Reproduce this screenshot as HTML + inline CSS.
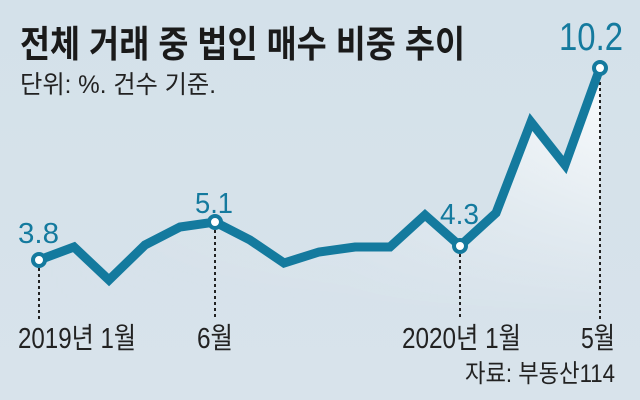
<!DOCTYPE html>
<html><head><meta charset="utf-8"><style>
html,body{margin:0;padding:0;width:640px;height:400px;overflow:hidden;background:#d6e2ea}
svg{display:block}
text{font-family:"Liberation Sans","Noto Sans CJK KR","NanumGothic",sans-serif}
</style></head><body>
<svg width="640" height="400" viewBox="0 0 640 400" xmlns="http://www.w3.org/2000/svg">
<defs>
<linearGradient id="bg" x1="0" y1="0" x2="0" y2="1">
<stop offset="0" stop-color="#d4e1ea"/><stop offset="1" stop-color="#d8e3eb"/>
</linearGradient>
<linearGradient id="fill" x1="0" y1="0" x2="1" y2="0">
<stop offset="0" stop-color="#ffffff" stop-opacity="0"/>
<stop offset="0.55" stop-color="#ffffff" stop-opacity="0.25"/>
<stop offset="1" stop-color="#ffffff" stop-opacity="0.95"/>
</linearGradient>
<linearGradient id="fadeV" x1="0" y1="0" x2="0" y2="1">
<stop offset="0" stop-color="#fff" stop-opacity="1"/>
<stop offset="1" stop-color="#fff" stop-opacity="0"/>
</linearGradient>
<mask id="m"><rect x="0" y="60" width="640" height="260" fill="url(#fadeV)"/></mask>
</defs>
<rect width="640" height="400" fill="url(#bg)"/>
<path d="M39,260 L74,247 L109,280 L145,245 L180,227 L215,222 L250,240 L284,263 L319,252 L355,247 L390,247 L425,215 L460,246 L496,213 L531,122 L565,165 L600,68 L600,330 L39,330 Z" fill="url(#fill)" mask="url(#m)"/>
<g stroke="#222" stroke-width="2" stroke-dasharray="3,3">
<line x1="39" y1="268" x2="39" y2="320"/>
<line x1="215" y1="230" x2="215" y2="320"/>
<line x1="460" y1="254" x2="460" y2="320"/>
<line x1="600" y1="76" x2="600" y2="320"/>
</g>
<polyline points="39,260 74,247 109,280 145,245 180,227 215,222 250,240 284,263 319,252 355,247 390,247 425,215 460,246 496,213 531,122 565,165 600,68" fill="none" stroke="#147a9e" stroke-width="9" stroke-linejoin="miter"/>
<g fill="#fff" stroke="#147a9e" stroke-width="4">
<circle cx="39" cy="260" r="6"/><circle cx="215" cy="222" r="6"/><circle cx="460" cy="246" r="6"/><circle cx="600" cy="68" r="6"/>
</g>
<text x="20" y="57" font-size="37" font-weight="bold" fill="#1a1a1a" textLength="445" lengthAdjust="spacingAndGlyphs">전체 거래 중 법인 매수 비중 추이</text>
<text x="20" y="93" font-size="25" fill="#222" textLength="196" lengthAdjust="spacingAndGlyphs">단위: %. 건수 기준.</text>
<g fill="#147a9e">
<text x="559" y="50" font-size="39" textLength="64" lengthAdjust="spacingAndGlyphs">10.2</text>
<text x="18" y="243" font-size="29" textLength="41" lengthAdjust="spacingAndGlyphs">3.8</text>
<text x="195" y="213" font-size="29" textLength="38" lengthAdjust="spacingAndGlyphs">5.1</text>
<text x="440" y="224" font-size="29" textLength="39" lengthAdjust="spacingAndGlyphs">4.3</text>
</g>
<g fill="#222" font-size="29">
<text x="18" y="348" textLength="118" lengthAdjust="spacingAndGlyphs">2019년 1월</text>
<text x="197" y="348" textLength="36" lengthAdjust="spacingAndGlyphs">6월</text>
<text x="402" y="348" textLength="119" lengthAdjust="spacingAndGlyphs">2020년 1월</text>
<text x="581" y="348" textLength="34" lengthAdjust="spacingAndGlyphs">5월</text>
<text x="465" y="382" font-size="25" textLength="150" lengthAdjust="spacingAndGlyphs">자료: 부동산114</text>
</g>
</svg>
</body></html>
